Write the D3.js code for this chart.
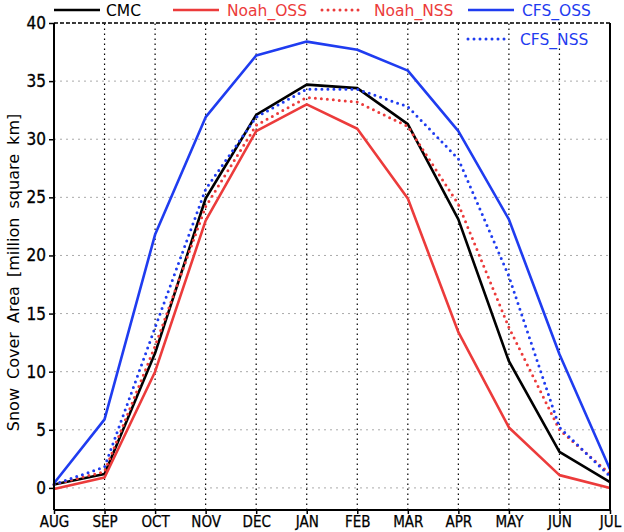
<!DOCTYPE html>
<html>
<head>
<meta charset="utf-8">
<script src="https://cdn.jsdelivr.net/npm/d3@7"></script>
<style>
  body { margin: 0; background: #fff; }
  svg text { font-family: "DejaVu Sans", sans-serif; }
  .tick text { font-family: "Liberation Sans Narrow", "DejaVu Sans Condensed", sans-serif; }
</style>
</head>
<body>
<svg id="chart"></svg>
<script>
const width = 624;
const height = 532;
const margin = { top: 23, right: 14, bottom: 22, left: 54 };

// Data (million square km)
const months = ["AUG", "SEP", "OCT", "NOV", "DEC", "JAN", "FEB", "MAR", "APR", "MAY", "JUN", "JUL"];
const cmc     = [0.3, 1.2, 11.6, 24.9, 32.1, 34.7, 34.4, 31.3, 23.1, 10.9, 3.1, 0.5];
const noahOSS = [-0.1, 0.9, 10.0, 23.0, 30.7, 33.0, 30.9, 24.9, 13.4, 5.2, 1.1, 0.0];
const noahNSS = [0.3, 1.4, 12.2, 24.2, 31.2, 33.6, 33.2, 31.1, 24.4, 13.8, 5.0, 1.2];
const cfsOSS  = [0.4, 5.9, 21.8, 31.9, 37.2, 38.4, 37.7, 35.9, 30.7, 23.1, 11.5, 1.6];
const cfsNSS  = [0.3, 1.8, 13.8, 25.7, 31.9, 34.3, 34.3, 32.8, 28.3, 18.2, 5.2, 1.0];
const yTicks  = [0, 5, 10, 15, 20, 25, 30, 35, 40];

const series = [
  { name: "CMC",      values: cmc,     color: "#000000", dotted: false },
  { name: "Noah_OSS", values: noahOSS, color: "#ec3b3b", dotted: false },
  { name: "Noah_NSS", values: noahNSS, color: "#ec3b3b", dotted: true },
  { name: "CFS_OSS",  values: cfsOSS,  color: "#1f3cf0", dotted: false },
  { name: "CFS_NSS",  values: cfsNSS,  color: "#1f3cf0", dotted: true }
];

const svg = d3.select("#chart")
  .attr("width", width)
  .attr("height", height);

// Scales
const xScale = d3.scalePoint()
  .domain(months)
  .range([margin.left, width - margin.right]);

const yScale = d3.scaleLinear()
  .domain([-1.9, 40])
  .range([height - margin.bottom, margin.top]);

const x0 = margin.left, x1 = width - margin.right;
const y0 = height - margin.bottom, y1 = margin.top;

// Horizontal grid (grey dotted)
svg.append("g")
  .selectAll("line")
  .data(yTicks)
  .enter()
  .append("line")
  .attr("x1", x0).attr("x2", x1)
  .attr("y1", d => yScale(d)).attr("y2", d => yScale(d))
  .attr("stroke", "#aaa")
  .attr("stroke-width", 1)
  .attr("stroke-dasharray", "2 4");

// Vertical grid (black dotted)
svg.append("g")
  .selectAll("line")
  .data(months.slice(1, -1))
  .enter()
  .append("line")
  .attr("x1", d => xScale(d)).attr("x2", d => xScale(d))
  .attr("y1", y0).attr("y2", y1)
  .attr("stroke", "#000")
  .attr("stroke-width", 1.2)
  .attr("stroke-dasharray", "1.5 3.5");

// Lines
const line = d3.line()
  .x((d, i) => xScale(months[i]))
  .y(d => yScale(d));

series.forEach(s => {
  svg.append("path")
    .datum(s.values)
    .attr("fill", "none")
    .attr("stroke", s.color)
    .attr("stroke-width", s.dotted ? 3 : 2.6)
    .attr("stroke-linecap", s.dotted ? "round" : "butt")
    .attr("stroke-linejoin", "round")
    .attr("stroke-dasharray", s.dotted ? "0 6" : null)
    .attr("d", line);
});

// Frame
svg.append("line").attr("x1", x0).attr("x2", x0).attr("y1", y0).attr("y2", y1)
  .attr("stroke", "#000").attr("stroke-width", 2);
svg.append("line").attr("x1", x1).attr("x2", x1).attr("y1", y0).attr("y2", y1)
  .attr("stroke", "#000").attr("stroke-width", 2);
svg.append("line").attr("x1", x0).attr("x2", x1).attr("y1", y0).attr("y2", y0)
  .attr("stroke", "#000").attr("stroke-width", 2);
svg.append("line").attr("x1", x0).attr("x2", x1).attr("y1", y1).attr("y2", y1)
  .attr("stroke", "#000").attr("stroke-width", 1.6)
  .attr("stroke-dasharray", "4 2");

// Y Axis
const yAxis = d3.axisLeft(yScale).tickValues(yTicks).tickSize(5).tickPadding(3);
const gy = svg.append("g")
  .attr("transform", `translate(${x0}, 0)`)
  .call(yAxis);
gy.select(".domain").remove();
gy.selectAll(".tick line").attr("stroke-width", 1.5);
gy.selectAll("text").attr("font-size", 17).attr("fill", "#000")
  .attr("stroke", "#000").attr("stroke-width", 0.3);

// X Axis
const xAxis = d3.axisBottom(xScale).tickSize(4).tickPadding(2);
const gx = svg.append("g")
  .attr("transform", `translate(0, ${y0})`)
  .call(xAxis);
gx.select(".domain").remove();
gx.selectAll(".tick line").attr("stroke-width", 1.5);
gx.selectAll("text").attr("font-size", 15).attr("fill", "#000")
  .attr("stroke", "#000").attr("stroke-width", 0.25);

// Y title
svg.append("text")
  .attr("transform", `translate(19, ${(y0 + y1) / 2 + 6}) rotate(-90)`)
  .attr("text-anchor", "middle")
  .attr("font-size", 16)
  .attr("word-spacing", 4)
  .attr("fill", "#000")
  .text("Snow Cover Area [million square km]");

// Legend
const legendPos = [
  { x: 54, y: 10 }, { x: 173, y: 10 }, { x: 322, y: 10 }, { x: 468, y: 10 }, { x: 468, y: 39 }
];
const legend = svg.append("g").attr("id", "legend");
series.forEach((s, i) => {
  const p = legendPos[i];
  const len = s.dotted ? 42 : 46;
  legend.append("line")
    .attr("x1", p.x).attr("x2", p.x + len)
    .attr("y1", p.y).attr("y2", p.y)
    .attr("stroke", s.color)
    .attr("stroke-width", s.dotted ? 3 : 2.6)
    .attr("stroke-linecap", s.dotted ? "round" : "butt")
    .attr("stroke-dasharray", s.dotted ? "0 6" : null);
  legend.append("text")
    .attr("x", p.x + (s.dotted ? 52 : 54) + (i === 0 ? -2 : 0))
    .attr("y", p.y)
    .attr("dy", "0.36em")
    .attr("font-size", 15.5)
    .attr("fill", s.color)
    .text(s.name);
});
</script>
</body>
</html>
